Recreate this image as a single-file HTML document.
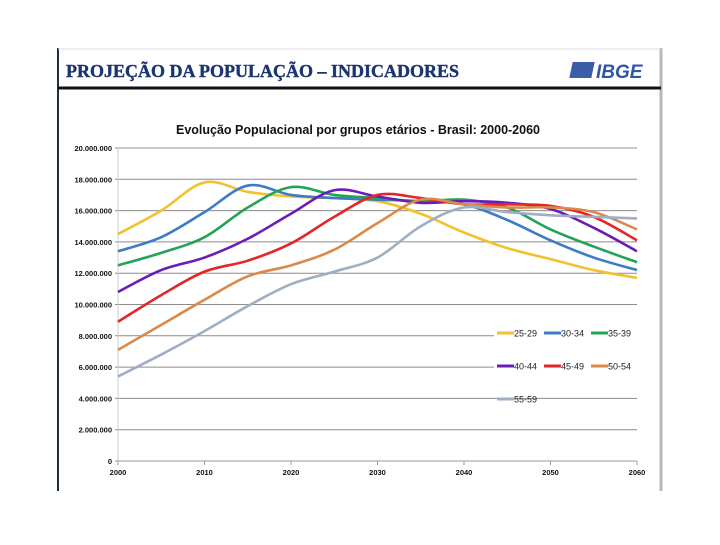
<!DOCTYPE html>
<html><head><meta charset="utf-8"><style>
body{margin:0;width:720px;height:540px;background:#fff;overflow:hidden;font-family:"Liberation Sans",sans-serif;}
</style></head><body>
<svg width="720" height="540" viewBox="0 0 720 540">
<rect x="57" y="48" width="604" height="443" fill="#fff"/>
<line x1="58" y1="48" x2="58" y2="491" stroke="#1d2f3f" stroke-width="2"/>
<line x1="661" y1="48" x2="661" y2="491" stroke="#b8b8b8" stroke-width="3"/>
<line x1="58" y1="49" x2="661" y2="49" stroke="#ddd" stroke-width="1"/>
<text x="66" y="77" font-family="Liberation Serif,serif" font-weight="bold" font-size="18" fill="#1c3570" stroke="#1c3570" stroke-width="0.4">PROJEÇÃO DA POPULAÇÃO – INDICADORES</text>
<g>
<rect x="571" y="62" width="22" height="16" fill="#3a5ea8" transform="skewX(-12)" transform-origin="582 70"/>
<text x="596" y="78" font-family="Liberation Sans,sans-serif" font-style="italic" font-weight="bold" font-size="19" fill="#2f57a5">IBGE</text>
</g>
<line x1="58" y1="88" x2="661" y2="88" stroke="#111" stroke-width="3"/>
<text x="358" y="134" text-anchor="middle" font-size="12.5" font-weight="bold" fill="#111">Evolução Populacional por grupos etários - Brasil: 2000-2060</text>
<g id="chart"></g>
</svg>
<script>
const years=[2000,2005,2010,2015,2020,2025,2030,2035,2040,2045,2050,2055,2060];
const yTicks=[0,2,4,6,8,10,12,14,16,18,20];
const xTicks=[2000,2010,2020,2030,2040,2050,2060];
const s2529=[14.5,16.0,17.8,17.2,16.9,16.8,16.6,15.8,14.6,13.6,12.9,12.2,11.7];
const s3034=[13.4,14.3,15.9,17.6,17.0,16.8,16.7,16.6,16.4,15.4,14.1,13.0,12.2];
const s3539=[12.5,13.3,14.3,16.2,17.5,17.0,16.8,16.6,16.7,16.2,14.8,13.7,12.7];
const s4044=[10.8,12.2,13.0,14.2,15.8,17.3,16.9,16.5,16.6,16.5,16.1,14.9,13.4];
const s4549=[8.9,10.6,12.1,12.8,13.9,15.6,17.0,16.8,16.4,16.4,16.3,15.6,14.1];
const s5054=[7.1,8.7,10.3,11.8,12.5,13.5,15.2,16.7,16.4,16.2,16.2,15.9,14.8];
const s5559=[5.4,6.8,8.3,9.9,11.3,12.1,13.0,15.0,16.2,15.9,15.7,15.6,15.5];
const seriesNames=["25-29","30-34","35-39","40-44","45-49","50-54","55-59"];
const seriesVals=[s2529,s3034,s3539,s4044,s4549,s5054,s5559];
const colors=["#f2c12e","#3d7cc4","#23a357","#6a1bb8","#e3262a","#d98a48","#a0aec4"];
const NS="http://www.w3.org/2000/svg";
const X0=118,X1=637,Y0=461,Y1=148;
const xs=v=>X0+(v-2000)/60*(X1-X0);
const ys=v=>Y0-v/20*(Y0-Y1);
const g=document.getElementById('chart');
function mk(t,a){const e=document.createElementNS(NS,t);for(const k in a)e.setAttribute(k,a[k]);g.appendChild(e);return e;}
function fmt(v){return v===0?"0":(v*1000000).toLocaleString('de-DE');}
yTicks.forEach(v=>{
 const l=mk('line',{x1:X0-3,x2:X1,y1:ys(v),y2:ys(v),stroke:v===0?'#999':'#8c8c8c','stroke-width':1});
 
 
 const t=mk('text',{x:X0-6,y:ys(v)+3,'text-anchor':'end','font-size':'7.5','font-weight':'bold',fill:'#111'});
 t.textContent=fmt(v);
 
 
});
const ya=mk('line',{x1:X0,x2:X0,y1:Y1,y2:Y0,stroke:'#ccc'});


xTicks.forEach(v=>{
 mk('line',{x1:xs(v),x2:xs(v),y1:Y0,y2:Y0+4,stroke:'#999'});
 const t=mk('text',{x:xs(v),y:Y0+14,'text-anchor':'middle','font-size':'7.5','font-weight':'bold',fill:'#111'});
 t.textContent=v;
 
 
});
function path(vals){
 const p=vals.map((v,i)=>[xs(years[i]),ys(v)]);
 let d=`M${p[0][0]},${p[0][1]}`;
 for(let i=0;i<p.length-1;i++){
  const a=p[Math.max(0,i-1)],b=p[i],c=p[i+1],e=p[Math.min(p.length-1,i+2)];
  const c1=[b[0]+(c[0]-a[0])/6,b[1]+(c[1]-a[1])/6],c2=[c[0]-(e[0]-b[0])/6,c[1]-(e[1]-b[1])/6];
  d+=` C${c1[0]},${c1[1]} ${c2[0]},${c2[1]} ${c[0]},${c[1]}`;
 }
 return d;
}
mk('rect',{x:494,y:322,width:146,height:56,fill:'#fff'});
seriesVals.forEach((vals,i)=>{
 const l=mk('path',{d:path(vals),fill:'none',stroke:colors[i],'stroke-width':2.6});
 
 
});
seriesNames.forEach((n,i)=>{
 const col=i%3,row=Math.floor(i/3);
 const lx=497+col*47,ly=333+row*33;
 const sw=mk('line',{x1:lx,x2:lx+17,y1:ly,y2:ly,stroke:colors[i],'stroke-width':3});
 
 
 const t=mk('text',{x:lx+17,y:ly+3.5,'font-size':'9',fill:'#222'});
 t.textContent=n;
 
 
});
</script>
</body></html>
